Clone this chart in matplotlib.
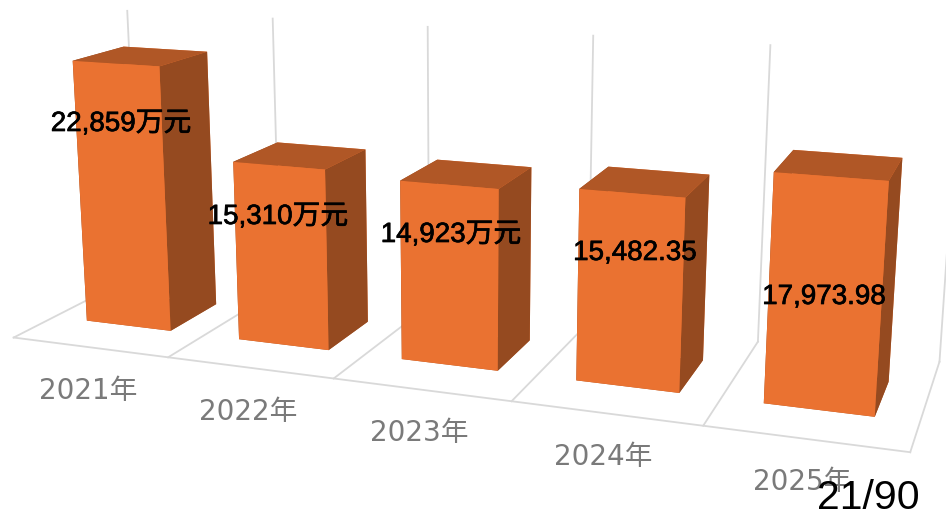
import matplotlib
matplotlib.use("Agg")
import matplotlib.pyplot as plt
import matplotlib.patheffects as pe
import numpy as np

W, H = 946, 516

years = ["2021年", "2022年", "2023年", "2024年", "2025年"]
values = [22859, 15310, 14923, 15482.35, 17973.98]
value_labels = ["22,859万元", "15,310万元", "14,923万元", "15,482.35", "17,973.98"]
page_label = "21/90"

# pixel centres of the texts, measured on the picture
year_pos = [(88, 391), (248, 412), (419, 433), (603, 457), (802, 482)]
value_pos = [(121, 124), (278, 217), (451, 235), (635, 253), (824, 297)]

front, top, side = "#EA7231", "#B05726", "#954A20"
grid = "#D9D9D9"
bar_width = 0.5586
bar_y0, bar_y1 = 0.2997, 0.6963
z_top = 25078

plt.rcParams["font.family"] = ["Noto Sans CJK JP", "DejaVu Sans"]

fig = plt.figure(figsize=(W / 100, H / 100), dpi=100)
ax = fig.add_axes([-0.0319, -0.3557, 1.0235, 1.8763], projection="3d")
ax.set_xlim(0, 5)
ax.set_ylim(0, 1)
ax.set_zlim(0, z_top)
ax.view_init(13.926, -69.811, -0.006)
ax.set_proj_type("persp", focal_length=0.3351)
ax.set_box_aspect((1, 0.2787, 0.3387))
ax.set_axis_off()
ax.computed_zorder = False

n = len(values)
xs = np.arange(n) + 0.5 - bar_width / 2
face = [top, top, front, front, side, side] * n
ax.bar3d(xs, [bar_y0] * n, [0] * n, bar_width, bar_y1 - bar_y0, values,
         color=face, shade=False, zorder=2, linewidth=0)

# floor dividers and wall lines
for i in range(n + 1):
    ax.plot([i, i], [0, 1], [0, 0], color=grid, lw=1.3, zorder=1, clip_on=False)
    ax.plot([i, i], [1, 1], [0, z_top], color=grid, lw=1.3, zorder=1, clip_on=False)
ax.plot([0, n], [0, 0], [0, 0], color=grid, lw=1.3, zorder=1, clip_on=False)

for label, (px, py) in zip(years, year_pos):
    fig.text(px / W, 1 - py / H, label, color="#7A7A7A", fontsize=20,
             family=["DejaVu Sans", "Noto Sans CJK JP"],
             ha="center", va="center")
for label, (px, py) in zip(value_labels, value_pos):
    fig.text(px / W, 1 - py / H, label, color="black", fontsize=20,
             family=["Liberation Sans", "Noto Sans CJK JP"], ha="center", va="center",
             path_effects=[pe.withStroke(linewidth=0.5, foreground="black")])
fig.text(868 / W, 1 - 498 / H, page_label, color="black", fontsize=29.5,
         family="Liberation Sans", ha="center", va="center")

fig.savefig("out.png", dpi=100)
